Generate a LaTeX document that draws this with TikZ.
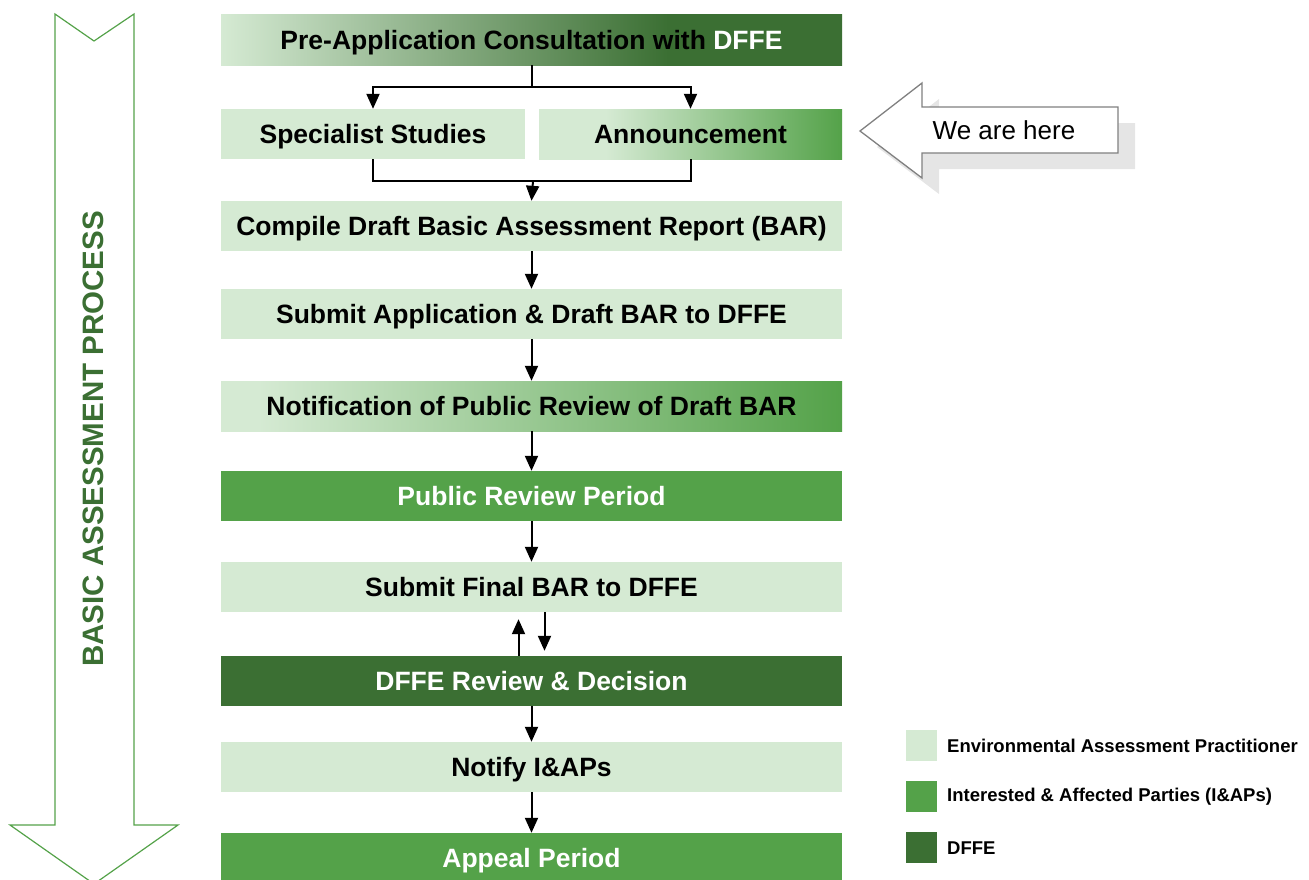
\documentclass[tikz,border=0pt]{standalone}
\usepackage{fontspec}
\setmainfont{Liberation Sans}
\usepackage{tikz}
\usetikzlibrary{arrows.meta,positioning,calc}
\definecolor{eapc}{RGB}{213,234,211}
\definecolor{iapc}{RGB}{84,162,73}
\definecolor{dfec}{RGB}{59,111,51}
\pgfdeclarehorizontalshading{preshade}{100bp}{color(0bp)=(eapc); color(25bp)=(eapc); color(61bp)=(dfec); color(100bp)=(dfec)}
\pgfdeclarehorizontalshading{annshade}{100bp}{color(0bp)=(eapc); color(36bp)=(eapc); color(75bp)=(iapc); color(100bp)=(iapc)}
\pgfdeclarehorizontalshading{notshade}{100bp}{color(0bp)=(eapc); color(28bp)=(eapc); color(75bp)=(iapc); color(100bp)=(iapc)}
\tikzstyle{stage}=[minimum width=621pt,minimum height=50pt,inner sep=0pt,text height=19pt,text depth=0pt,font=\fontsize{26.5}{30}\selectfont\bfseries]
\tikzstyle{eap}=[stage,fill=eapc]
\tikzstyle{iap}=[stage,fill=iapc,text=white]
\tikzstyle{dfe}=[stage,fill=dfec,text=white]
\tikzstyle{flow}=[line width=2pt,-{Triangle[length=15pt,width=13pt]}]
\tikzstyle{key}=[minimum size=31pt,inner sep=0pt]
\tikzstyle{keytext}=[anchor=west,inner sep=0pt,font=\fontsize{18.5}{22}\selectfont\bfseries]

\begin{document}
\begin{tikzpicture}[x=1pt,y=-1pt]
\useasboundingbox (0,0) rectangle (1309,879);
\draw[iapc,line width=1.2pt] (55,14) -- (94,41) -- (134,14) -- (134,825) -- (178,825) -- (94,884) -- (10,825) -- (55,825) -- cycle;
\node (side) [rotate=90,text=dfec,font=\fontsize{29.5}{34}\selectfont\bfseries] at (93,439) {BASIC ASSESSMENT PROCESS};

\node (pre) [stage,shading=preshade,minimum height=51pt] at (531.5,39.5) {Pre-Application Consultation with \textcolor{white}{DFFE}};
\node (spec) [eap,minimum width=304pt] at (373,134) {Specialist Studies};
\node (annc) [stage,shading=annshade,minimum width=303pt] at (690.5,134) {Announcement};
\node (comp) [eap] at (531.5,226) {Compile Draft Basic Assessment Report (BAR)};
\node (subapp) [eap] at (531.5,314) {Submit Application \& Draft BAR to DFFE};
\node (notif) [stage,shading=notshade] at (531.5,406) {Notification of Public Review of Draft BAR};
\node (review) [iap] at (531.5,496) {Public Review Period};
\node (subfin) [eap] at (531.5,587) {Submit Final BAR to DFFE};
\node (decide) [dfe] at (531.5,681) {DFFE Review \& Decision};
\node (notify) [eap] at (531.5,767) {Notify I\&APs};
\node (appeal) [iap] at (531.5,858) {Appeal Period};

\draw[line width=2pt] (pre.south) -- ++(0,22) coordinate (fork);
\draw[flow] (fork) -| (spec.north);
\draw[flow] (fork) -| (annc.north);
\coordinate (join) at (533,181);
\draw[line width=2pt] (spec.south) |- (join) -| (annc.south);
\draw[flow] (join) -- (comp.north);
\draw[flow] (comp) -- (subapp);
\draw[flow] (subapp) -- (notif);
\draw[flow] (notif) -- (review);
\draw[flow] (review) -- (subfin);
\draw[flow,shorten >=7pt] ([xshift=-13pt]decide.north) -- ([xshift=-13pt]subfin.south);
\draw[flow,shorten >=5pt] ([xshift=13pt]subfin.south) -- ([xshift=13pt]decide.north);
\draw[flow] (decide) -- (notify);
\draw[flow] (notify) -- (appeal);

\fill[black!10] (877,147) -- (939,99) -- (939,123) -- (1135,123) -- (1135,169) -- (939,169) -- (939,194) -- cycle;
\draw[black!50,fill=white,line width=1.3pt] (860,131) -- (922,83) -- (922,107) -- (1118,107) -- (1118,153) -- (922,153) -- (922,178) -- cycle;
\node (here) [font=\fontsize{26}{30}\selectfont] at (1004,130) {We are here};

\node (keyeap) [key,fill=eapc] at (921.5,745.5) {};
\node (keyiap) [key,fill=iapc] at (921.5,796.5) {};
\node (keydfe) [key,fill=dfec] at (921.5,847.5) {};
\node [keytext] at (947,746) {Environmental Assessment Practitioner};
\node [keytext] at (947,797) {Interested \& Affected Parties (I\&APs)};
\node [keytext] at (947,848) {DFFE};
\end{tikzpicture}
\end{document}
